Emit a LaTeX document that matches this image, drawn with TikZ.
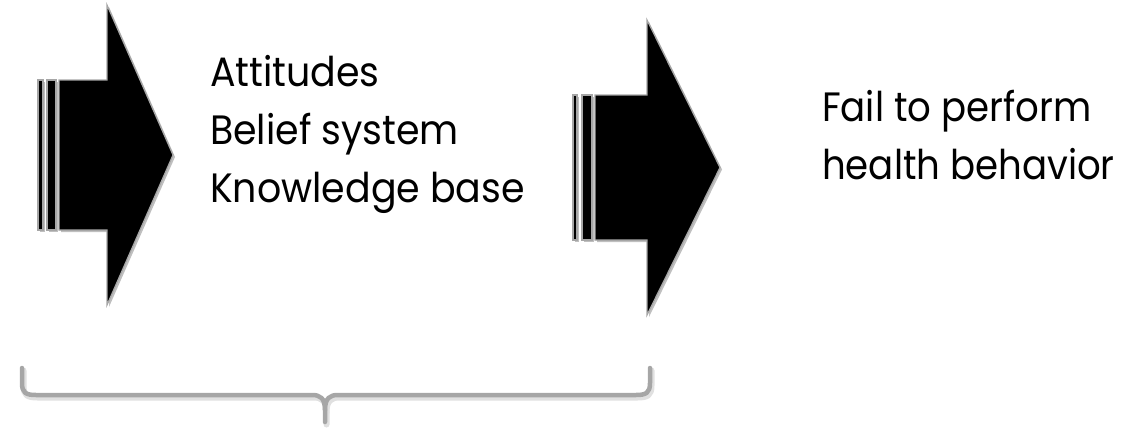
\documentclass[tikz,border=0pt]{standalone}
\usepackage{fontspec}
\setmainfont{Poppins}
\begin{document}
\begin{tikzpicture}[x=1pt,y=-1pt,
  arrowpart/.style={fill=black,draw=black!35,line width=1.2pt},
  shadowpart/.style={fill=black!25,draw=none},
  bracestyle/.style={draw=black!35,line width=4.5pt,line cap=round,line join=round},
  braceshadow/.style={draw=black!12,line width=6pt,line cap=round,line join=round},
  label/.style={font=\fontsize{41}{58}\selectfont,align=left,inner sep=0pt,anchor=north west,xscale=0.925}]
\useasboundingbox (0,0) rectangle (1132,431);
% shadows
\begin{scope}[shift={(2,2)}]
\fill[shadowpart] (38,80) rectangle (43,230);
\fill[shadowpart] (47,80) rectangle (56,230);
\fill[shadowpart] (59,80) -- (107,80) -- (107,5) -- (173,155) -- (107,305) -- (107,230) -- (59,230) -- cycle;
\fill[shadowpart] (573,95) rectangle (577,240);
\fill[shadowpart] (582,95) rectangle (592,240);
\fill[shadowpart] (595,95) -- (647,95) -- (647,20) -- (720,167.5) -- (647,315) -- (647,240) -- (595,240) -- cycle;
\end{scope}
% arrow 1
\path[arrowpart] (38,80) rectangle (43,230);
\path[arrowpart] (47,80) rectangle (56,230);
\path[arrowpart] (59,80) -- (107,80) -- (107,5) -- (173,155) -- (107,305) -- (107,230) -- (59,230) -- cycle;
% arrow 2
\path[arrowpart] (573,95) rectangle (577,240);
\path[arrowpart] (582,95) rectangle (592,240);
\path[arrowpart] (595,95) -- (647,95) -- (647,20) -- (720,167.5) -- (647,315) -- (647,240) -- (595,240) -- cycle;
% brace
\begin{scope}[shift={(1.5,2.5)}]
\draw[braceshadow] (22,368) -- (22,383) .. controls (22,393) and (26,395) .. (36,395) -- (312,395) .. controls (320,395) and (325,398) .. (325,410) -- (325,422);
\draw[braceshadow] (325,410) .. controls (325,398) and (330,395) .. (338,395) -- (636,395) .. controls (646,395) and (650,393) .. (650,383) -- (650,368);
\end{scope}
\draw[bracestyle] (22,368) -- (22,383) .. controls (22,393) and (26,395) .. (36,395) -- (312,395) .. controls (320,395) and (325,398) .. (325,410) -- (325,422);
\draw[bracestyle] (325,410) .. controls (325,398) and (330,395) .. (338,395) -- (636,395) .. controls (646,395) and (650,393) .. (650,383) -- (650,368);
% text
\node[label] (factors) at (210,55) {Attitudes\\Belief system\\Knowledge base};
\node[label,xscale=0.905/0.925] (outcome) at (822,90) {Fail to perform\\health behavior};
\end{tikzpicture}
\end{document}
